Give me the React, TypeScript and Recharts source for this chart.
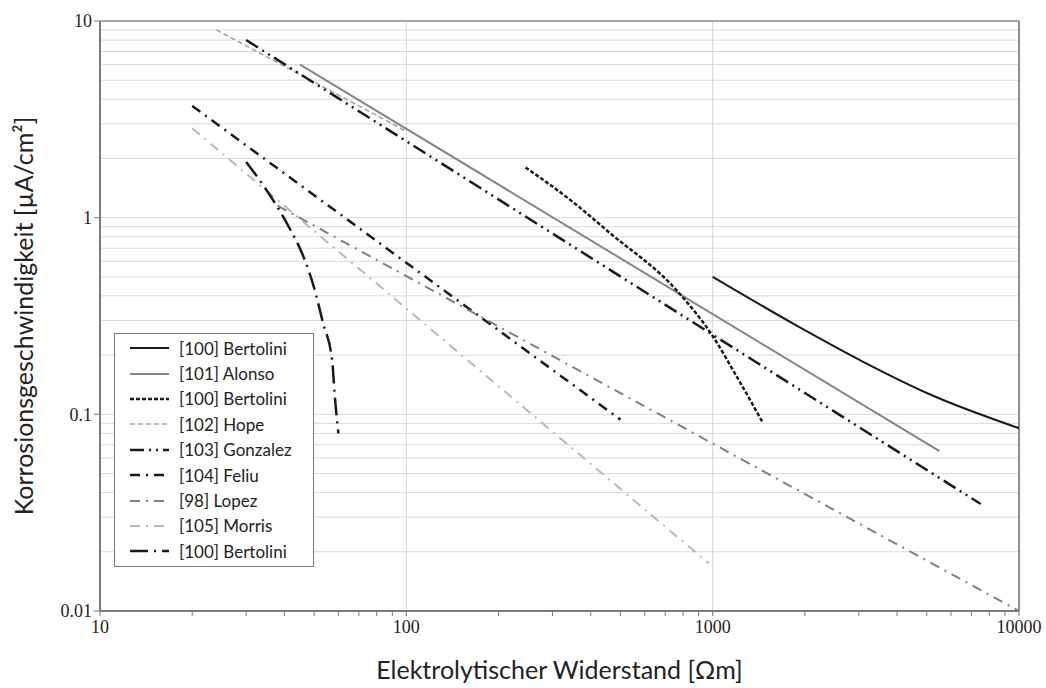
import React from 'react';
import { LineChart, Line, XAxis, YAxis, ReferenceLine } from 'recharts';

type Pt = { x: number; y: number };

const xMajor = [10, 100, 1000, 10000];
const xTicks = [
  10, 20, 30, 40, 50, 60, 70, 80, 90,
  100, 200, 300, 400, 500, 600, 700, 800, 900,
  1000, 2000, 3000, 4000, 5000, 6000, 7000, 8000, 9000,
  10000,
];
const yTicks = [0.01, 0.1, 1, 10];
const yGrid = [
  0.02, 0.03, 0.04, 0.05, 0.06, 0.07, 0.08, 0.09, 0.1,
  0.2, 0.3, 0.4, 0.5, 0.6, 0.7, 0.8, 0.9, 1,
  2, 3, 4, 5, 6, 7, 8, 9,
];
const xGrid = [100, 1000];

// series
const bertoliniSolid: Pt[] = [
  { x: 1000, y: 0.5 }, { x: 1900, y: 0.28 }, { x: 3100, y: 0.185 },
  { x: 5200, y: 0.125 }, { x: 10000, y: 0.085 },
];
const alonso: Pt[] = [{ x: 45, y: 6 }, { x: 5500, y: 0.065 }];
const bertoliniDashed: Pt[] = [
  { x: 245, y: 1.8 }, { x: 350, y: 1.2 }, { x: 460, y: 0.84 }, { x: 770, y: 0.42 },
  { x: 1000, y: 0.25 }, { x: 1200, y: 0.155 }, { x: 1450, y: 0.092 },
];
const hope: Pt[] = [{ x: 24, y: 9 }, { x: 100, y: 2.75 }];
const gonzalez: Pt[] = [{ x: 30, y: 8 }, { x: 7500, y: 0.035 }];
const feliu: Pt[] = [{ x: 20, y: 3.7 }, { x: 500, y: 0.094 }];
const lopez: Pt[] = [{ x: 38, y: 1.15 }, { x: 10000, y: 0.01 }];
const morris: Pt[] = [{ x: 20, y: 2.85 }, { x: 970, y: 0.0175 }];
const bertoliniSteep: Pt[] = [
  { x: 30, y: 1.92 }, { x: 35.3, y: 1.35 }, { x: 41, y: 0.92 }, { x: 46.4, y: 0.62 },
  { x: 50, y: 0.44 }, { x: 53.5, y: 0.29 }, { x: 57.2, y: 0.19 }, { x: 58.5, y: 0.12 },
  { x: 60, y: 0.08 },
];

const series = [
  { name: '[100] Bertolini', data: bertoliniSolid, color: '#1a1a1a', width: 2, dash: undefined, curve: 'monotone' },
  { name: '[101] Alonso', data: alonso, color: '#858585', width: 2, dash: undefined, curve: 'linear' },
  { name: '[100] Bertolini', data: bertoliniDashed, color: '#1a1a1a', width: 2.5, dash: '4 2', curve: 'monotone' },
  { name: '[102] Hope', data: hope, color: '#a0a0a0', width: 1.5, dash: '5 3', curve: 'linear' },
  { name: '[103] Gonzalez', data: gonzalez, color: '#1a1a1a', width: 2.5, dash: '14 5 2 5 2 5', curve: 'linear' },
  { name: '[104] Feliu', data: feliu, color: '#1a1a1a', width: 2.5, dash: '10 6 2 6', curve: 'linear' },
  { name: '[98] Lopez', data: lopez, color: '#808080', width: 2, dash: '10 6 2 6', curve: 'linear' },
  { name: '[105] Morris', data: morris, color: '#b8b8b8', width: 2, dash: '10 6 2 6', curve: 'linear' },
  { name: '[100] Bertolini', data: bertoliniSteep, color: '#1a1a1a', width: 2.5, dash: '18 6 2 6', curve: 'monotone' },
] as const;

const tickFont = { fontFamily: '"Liberation Serif", serif', fontSize: 18, fill: '#222' };
const titleFont = { fontFamily: 'Lato, sans-serif', fontSize: 25, fill: '#222' };

const XTick = (props: any) => {
  const { x, y, payload } = props;
  if (!xMajor.includes(payload.value)) return <g />;
  return (
    <text x={x} y={y + 15} textAnchor="middle" {...tickFont}>
      {payload.value}
    </text>
  );
};

const LegendBox = () => (
  <div
    style={{
      position: 'absolute',
      left: 114,
      top: 333,
      width: 200,
      boxSizing: 'border-box',
      border: '1.5px solid #7a7a7a',
      background: '#fff',
      padding: '1.5px 0 2px 13px',
      fontFamily: 'Lato, sans-serif',
      fontSize: 17,
      color: '#222',
    }}
  >
    {series.map((s, i) => (
      <div key={i} style={{ display: 'flex', alignItems: 'center', height: 25.4, whiteSpace: 'nowrap' }}>
        <svg width={42} height={10} style={{ marginRight: 9 }}>
          <line x1={2} y1={5} x2={41} y2={5} stroke={s.color} strokeWidth={s.width} strokeDasharray={s.dash} />
        </svg>
        <span>{s.name}</span>
      </div>
    ))}
  </div>
);

export default function App() {
  return (
    <div style={{ position: 'absolute', left: 0, top: 0, width: 1046, height: 688, background: '#fff' }}>
      <LineChart width={1046} height={688} margin={{ top: 21, right: 27, left: 0, bottom: 0 }}>
        {yGrid.map((v) => (
          <ReferenceLine key={'h' + v} y={v} stroke="#d9d9d9" strokeWidth={1} />
        ))}
        {xGrid.map((v) => (
          <ReferenceLine key={'v' + v} x={v} stroke="#d6d6d6" strokeWidth={1} />
        ))}
        <ReferenceLine y={10} stroke="#8a8a8a" strokeWidth={1.5} />
        <ReferenceLine x={10000} stroke="#6a6a6a" strokeWidth={1.5} />
        <XAxis
          dataKey="x"
          type="number"
          scale="log"
          domain={[10, 10000]}
          allowDataOverflow
          ticks={xTicks}
          interval={0}
          height={77}
          tick={<XTick />}
          tickSize={5}
          axisLine={{ stroke: '#7a7a7a', strokeWidth: 2 }}
          tickLine={{ stroke: '#7a7a7a' }}
          label={{
            value: 'Elektrolytischer Widerstand [Ωm]',
            position: 'insideBottom',
            offset: 9,
            style: titleFont,
          }}
        />
        <YAxis
          type="number"
          scale="log"
          domain={[0.01, 10]}
          allowDataOverflow
          ticks={yTicks}
          interval={0}
          width={100}
          tickFormatter={(v: number) => String(v)}
          tick={tickFont}
          tickSize={6}
          axisLine={{ stroke: '#7a7a7a', strokeWidth: 2 }}
          tickLine={{ stroke: '#7a7a7a' }}
          label={{
            value: 'Korrosionsgeschwindigkeit [µA/cm²]',
            angle: -90,
            position: 'insideLeft',
            offset: 24,
            style: { ...titleFont, textAnchor: 'middle' },
          }}
        />
        {series.map((s, i) => (
          <Line
            key={i}
            data={s.data as any}
            dataKey="y"
            name={s.name}
            type={s.curve as any}
            stroke={s.color}
            strokeWidth={s.width}
            strokeDasharray={s.dash}
            dot={false}
            activeDot={false}
            isAnimationActive={false}
          />
        ))}
      </LineChart>
      <LegendBox />
    </div>
  );
}
